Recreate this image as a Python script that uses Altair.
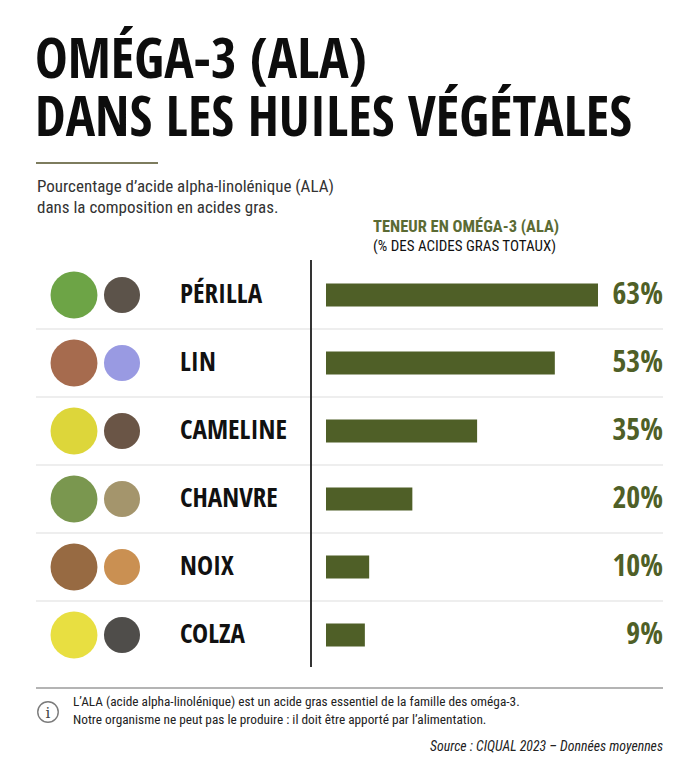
import altair as alt
import pandas as pd

# data
plants = ["PÉRILLA", "LIN", "CAMELINE", "CHANVRE", "NOIX", "COLZA"]
ala_pct = [63, 53, 35, 20, 10, 9]
title_lines = ["OMÉGA-3 (ALA)", "DANS LES HUILES VÉGÉTALES"]
subtitle_lines = ["Pourcentage d’acide alpha-linolénique (ALA)", "dans la composition en acides gras."]
header_lines = ["TENEUR EN OMÉGA-3 (ALA)", "(% DES ACIDES GRAS TOTAUX)"]
note_lines = [
    "L’ALA (acide alpha-linolénique) est un acide gras essentiel de la famille des oméga-3.",
    "Notre organisme ne peut pas le produire : il doit être apporté par l’alimentation.",
]
source_text = "Source : CIQUAL 2023 – Données moyennes"

# rough stand-ins for the plant photos (left blob, right blob)
icon_left = ["#5d9a32", "#9c5b3b", "#d9d125", "#6c8c3c", "#8c5a2e", "#e6dc2c"]
icon_right = ["#4a4036", "#8e8fdf", "#5a4232", "#9a8a5c", "#c4843f", "#3c3a36"]

GREEN = "#4f5f27"
HEAVY = "Open Sans Condensed, Roboto Condensed, DejaVu Sans Condensed, sans-serif"
BODY = "Roboto Condensed, Open Sans Condensed, DejaVu Sans Condensed, sans-serif"

df = pd.DataFrame({
    "plant": plants,
    "value": ala_pct,
    "idx": list(range(len(plants))),
    "label": [f"{v}%" for v in ala_pct],
    "left_col": icon_left,
    "right_col": icon_right,
})
seps = pd.DataFrame({"sep": [i + 0.5 for i in range(len(plants) - 1)]})

y_scale = alt.Scale(domain=[0, 5], range=[282, 632])
x_scale = alt.Scale(domain=[0, 63], range=[318, 590])

base = alt.Chart(df)

bars = base.mark_bar(orient="horizontal", height=23, color=GREEN).encode(
    x=alt.X("value:Q", scale=x_scale, axis=None),
    y=alt.Y("idx:Q", scale=y_scale, axis=None),
)

names = base.mark_text(
    align="left", baseline="middle", font=HEAVY, fontSize=27, fontWeight="bold", color="#111111"
).encode(x=alt.value(172), y=alt.Y("idx:Q", scale=y_scale, axis=None), text="plant:N")

values = base.mark_text(
    align="right", baseline="middle", font=HEAVY, fontSize=30, fontWeight="bold", color=GREEN
).encode(x=alt.value(655), y=alt.Y("idx:Q", scale=y_scale, axis=None), text="label:N")

blob_left = base.mark_circle(opacity=0.9, size=2200).encode(
    x=alt.value(66), y=alt.Y("idx:Q", scale=y_scale, axis=None),
    color=alt.Color("left_col:N", scale=None),
)
blob_right = base.mark_circle(opacity=0.9, size=1300).encode(
    x=alt.value(114), y=alt.Y("idx:Q", scale=y_scale, axis=None),
    color=alt.Color("right_col:N", scale=None),
)

separators = alt.Chart(seps).mark_rule(color="#dedede", strokeWidth=1.2).encode(
    x=alt.value(28), x2=alt.value(655), y=alt.Y("sep:Q", scale=y_scale, axis=None)
)

vline = alt.Chart(seps).mark_rule(color="#333333", strokeWidth=1.3).encode(
    x=alt.value(303), y=alt.value(252), y2=alt.value(659)
)


def text_block(lines, x, ys, **kw):
    d = pd.DataFrame({"t": lines, "row": list(range(len(lines)))})
    layers = []
    for i, yy in enumerate(ys):
        layers.append(
            alt.Chart(d).transform_filter(alt.datum.row == i).mark_text(**kw).encode(
                x=alt.value(x), y=alt.value(yy), text="t:N"
            )
        )
    return alt.layer(*layers)


title = text_block(title_lines, 27, [70, 128], align="left", baseline="alphabetic",
                   font=HEAVY, fontSize=55, fontWeight="bold", color="#0d0d0d")
gold_rule = alt.Chart(seps).mark_rule(color="#7d7c5e", strokeWidth=2).encode(
    x=alt.value(28), x2=alt.value(150), y=alt.value(155)
)
subtitle = text_block(subtitle_lines, 29, [179, 200], align="left", baseline="middle",
                      font=BODY, fontSize=17, color="#333333")
header1 = text_block(header_lines[:1], 365, [219], align="left", baseline="middle",
                     font=BODY, fontSize=16.5, fontWeight="bold", color="#5b6b34")
header2 = text_block(header_lines[1:], 365, [238], align="left", baseline="middle",
                     font=BODY, fontSize=15, color="#111111")

bottom_rule = alt.Chart(seps).mark_rule(color="#b5b5b5", strokeWidth=1.3).encode(
    x=alt.value(28), x2=alt.value(655), y=alt.value(680)
)
info_circle = alt.Chart(seps).transform_filter(alt.datum.sep < 1).mark_point(
    shape="circle", size=420, filled=False, stroke="#444444", strokeWidth=1.4
).encode(x=alt.value(40), y=alt.value(704))
info_i = text_block(["i"], 40, [705], align="center", baseline="middle",
                    font="DejaVu Serif, serif", fontSize=15, color="#444444")
notes = text_block(note_lines, 65, [694, 712], align="left", baseline="middle",
                   font=BODY, fontSize=13.3, color="#222222")
source = text_block([source_text], 655, [739], align="right", baseline="middle",
                    font=BODY, fontSize=13.8, fontStyle="italic", color="#222222")

chart = alt.layer(
    separators, vline, blob_left, blob_right, bars, names, values,
    title, gold_rule, subtitle, header1, header2,
    bottom_rule, info_circle, info_i, notes, source,
).properties(
    width=684, height=752, padding=0,
    autosize=alt.AutoSizeParams(type="fit", contains="padding"),
    background="white",
).configure_view(strokeWidth=0)

chart.save("out.html", embed_options={"renderer": "svg", "actions": False})
